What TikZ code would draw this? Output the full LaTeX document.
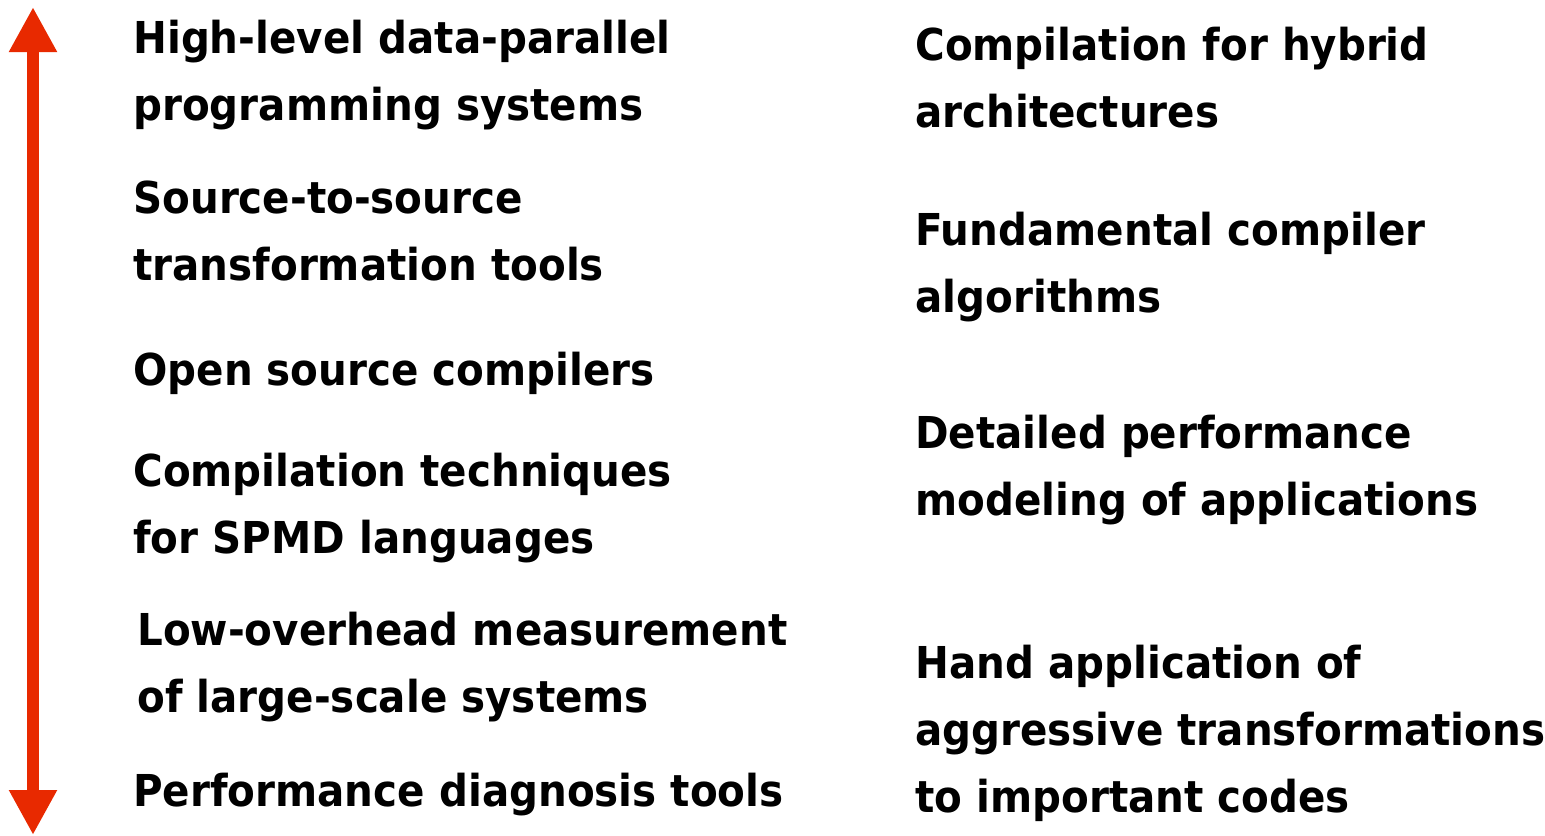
\documentclass[tikz,border=0pt]{standalone}
\usepackage{fontspec}
\setmainfont{DejaVu Sans}[FakeStretch=0.92]
\usetikzlibrary{arrows.meta}
\definecolor{arrowred}{RGB}{232,41,0}
\begin{document}
\begin{tikzpicture}[item/.style = {anchor=base west, align=left, inner sep=0pt,
      font=\fontsize{25}{38.1}\selectfont\bfseries}]
        \useasboundingbox (0,0) rectangle (30.9,-16.7);
        \coordinate (top) at (0.66,-0.14);
        \coordinate (bot) at (0.66,-16.7);
        %
        \node[item] (hl) at (2.66,-2.40) {High-level data-parallel\\programming systems};
        \node[item] (s2s) at (2.66,-5.60) {Source-to-source\\transformation tools};
        \node[item] (osc) at (2.66,-7.70) {Open source compilers};
        \node[item] (spmd) at (2.66,-11.06) {Compilation techniques\\for SPMD languages};
        \node[item] (low) at (2.74,-14.24) {Low-overhead measurement\\of large-scale systems};
        \node[item] (diag) at (2.66,-16.12) {Performance diagnosis tools};
        %
        \node[item] (hyb) at (18.3,-2.54) {Compilation for hybrid\\architectures};
        \node[item] (fund) at (18.3,-6.24) {Fundamental compiler\\algorithms};
        \node[item] (perf) at (18.3,-10.30) {Detailed performance\\modeling of applications};
        \node[item] (hand) at (18.3,-16.24) {Hand application of\\aggressive transformations\\to important codes};
        %
        \draw[arrowred, line width=0.24cm, {Triangle[width=0.9cm,length=0.9cm]}-{Triangle[width=0.9cm,length=0.9cm]}] (top) -- (bot);
      \end{tikzpicture}
\end{document}
